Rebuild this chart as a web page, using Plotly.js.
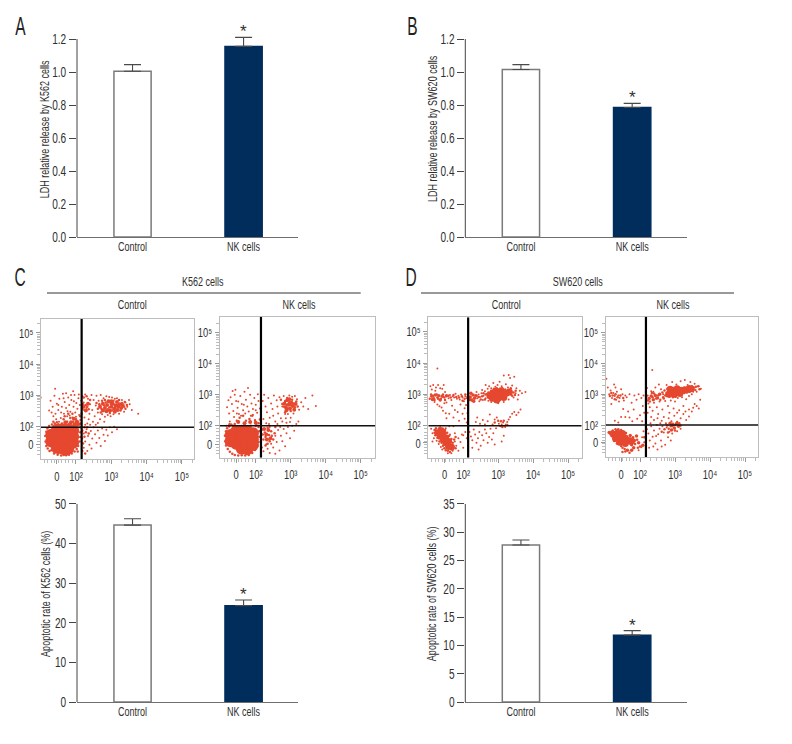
<!DOCTYPE html>
<html><head><meta charset="utf-8">
<script src="https://cdn.plot.ly/plotly-3.0.1.min.js"></script>
<style>html,body{margin:0;padding:0;background:#fff}#chart{width:792px;height:744px}</style>
</head><body><div id="chart"></div>
<script>
const FONT = '"Liberation Sans",sans-serif';
const TEXT = '#2f2f2f', DOT = '#e5482f', NAVY = '#002d5c';
const categories = ['Control', 'NK cells'];

const ldhK562 = [1.005, 1.155];
const ldhK562Err = [0.04, 0.055];
const ldhSW620 = [1.015, 0.785];
const ldhSW620Err = [0.03, 0.025];
const apoK562 = [44.6, 24.3];
const apoK562Err = [1.6, 1.4];
const apoSW620 = [27.7, 11.8];
const apoSW620Err = [0.9, 0.8];

const flowTickVals = [200, 300, 400, 500];
const flowTickText = ['10\u00B2', '10\u00B3', '10\u2074', '10\u2075'];

// Flow cytometry events in hundredths of a log decade (250 = 10^2.5).
const c1Core = [[130,172],[130,150],[146,188],[146,168],[146,148],[146,130],[162,190],[162,170],[162,150],[162,128],[178,190],[178,170],[178,150],[178,128],[192,186],[192,166],[192,146],[170,124]];
const c1Mid = [[268,262],[276,272],[282,258],[288,268],[292,280],[296,250],[300,262],[304,272],[308,256],[312,266],[316,278],[320,262],[324,270],[328,258],[332,268],[300,280],[286,248],[310,246],[276,250],[318,252],[170,212],[186,212],[194,224],[202,214],[196,206],[182,205],[205,205],[222,262],[228,250],[234,272]];
const c1Extra = [[113,168],[114,150],[116,182],[116,136],[119,192],[120,128],[124,200],[125,120],[130,122],[132,205],[138,112],[140,208],[148,108],[150,112],[158,105],[165,107],[172,106],[180,108],[188,112],[196,118],[202,126],[206,136],[210,150],[212,165],[212,180],[212,196],[205,118],[118,158],[122,176],[210,205],[266,270],[272,256],[274,282],[280,266],[284,276],[290,254],[294,260],[298,272],[302,250],[306,282],[312,258],[316,268],[322,284],[326,250],[330,274],[336,262],[340,256],[270,244],[282,284],[296,242],[344,268],[338,278],[262,256],[258,274],[220,270],[224,252],[218,256],[228,268],[232,262],[236,254],[240,284],[216,240],[230,296],[222,292],[160,208],[165,222],[175,214],[184,226],[192,214],[200,222],[206,214],[212,208],[212,232],[190,240],[178,240],[168,232],[150,206],[146,212],[136,214],[218,186],[224,196],[224,166],[228,180],[232,196],[236,176],[220,144],[218,120],[226,112]];
const c1Sparse = [[128,282],[134,262],[139,298],[142,240],[146,272],[150,252],[153,288],[157,226],[160,262],[163,304],[166,240],[168,278],[172,258],[175,232],[178,292],[181,268],[184,246],[187,284],[190,228],[193,262],[196,300],[198,244],[201,274],[204,256],[207,290],[209,236],[211,268],[136,232],[144,222],[152,214],[176,248],[186,300],[165,290],[150,268],[172,306],[200,230],[208,302],[124,250],[131,244],[192,312],[215,282],[158,244],[182,234],[194,280],[212,220],[218,296],[222,276],[226,302],[230,258],[234,288],[238,240],[240,270],[244,300],[246,252],[250,284],[253,232],[256,266],[258,298],[262,244],[264,282],[268,222],[270,300],[274,238],[278,290],[282,230],[286,296],[290,236],[294,294],[298,232],[302,292],[306,238],[310,288],[316,290],[322,240],[330,284],[336,246],[340,276],[345,262],[352,270],[358,252],[236,222],[224,228],[248,214],[232,208],[262,210],[280,214],[376,240],[350,284],[218,196],[222,176],[226,150],[230,190],[234,168],[238,140],[242,184],[246,160],[250,196],[254,174],[258,146],[262,186],[266,162],[270,136],[274,192],[278,172],[282,152],[286,188],[290,170],[296,196],[302,180],[308,198],[316,190],[222,130],[232,120],[244,128],[218,160],[226,204],[240,204],[256,204],[100,292],[141,320]];

const c2Core = [[128,170],[128,150],[144,182],[144,162],[144,142],[160,184],[160,164],[160,144],[160,126],[176,182],[176,162],[176,142],[176,124],[192,176],[192,156],[192,138]];
const c2Mid = [[282,272],[286,260],[290,282],[294,268],[298,256],[302,274],[306,264],[310,252],[288,250],[314,270],[296,286],[150,212],[168,208],[184,212],[200,210],[224,190],[230,172],[236,186],[242,160],[232,156]];
const c2Extra = [[112,168],[113,150],[115,182],[115,136],[118,192],[120,125],[124,198],[126,116],[133,110],[140,106],[150,104],[160,105],[170,104],[180,106],[190,112],[198,122],[204,134],[208,148],[210,165],[210,182],[208,196],[118,145],[122,160],[200,200],[135,200],[125,205],[280,262],[284,280],[288,268],[292,256],[296,276],[300,266],[304,284],[308,272],[312,260],[316,278],[290,290],[300,248],[276,270],[320,262],[284,244],[272,284],[140,206],[146,216],[154,226],[164,232],[172,216],[182,222],[190,232],[198,218],[208,208],[212,220],[170,198],[186,200],[202,202],[130,204],[218,188],[220,172],[222,156],[226,178],[228,164],[234,194],[238,170],[240,150],[244,182],[246,168],[250,156],[254,176],[256,196],[234,142],[228,136]];
const c2Sparse = [[118,260],[124,240],[128,292],[132,270],[136,248],[140,300],[144,280],[148,258],[152,238],[156,296],[160,270],[164,250],[168,310],[172,284],[176,262],[180,246],[184,300],[188,272],[192,254],[196,290],[200,268],[204,242],[208,280],[212,256],[138,228],[146,240],[158,232],[170,240],[186,232],[200,250],[122,282],[134,312],[150,278],[166,268],[178,322],[206,302],[192,236],[126,214],[116,200],[142,316],[220,280],[224,300],[228,262],[232,244],[236,290],[240,226],[244,272],[248,254],[252,298],[256,214],[260,282],[264,240],[268,292],[272,224],[276,262],[280,296],[284,238],[288,210],[292,238],[296,298],[300,226],[304,294],[308,240],[312,296],[318,286],[324,252],[330,276],[336,262],[342,290],[350,254],[362,298],[372,264],[222,222],[230,208],[238,206],[250,232],[262,206],[276,214],[286,224],[298,212],[262,262],[218,130],[222,118],[230,140],[234,126],[240,196],[244,142],[250,130],[256,168],[260,148],[264,186],[268,120],[272,168],[276,150],[280,190],[284,134],[288,176],[292,196],[298,160],[304,200],[310,184],[316,206],[322,214],[256,110],[270,196],[240,112]];

const d1Core = [[128,178],[134,168],[142,176],[142,158],[150,162],[150,146],[158,150],[158,134],[166,132],[136,184],[276,296],[284,304],[284,288],[292,296],[292,310],[300,288],[300,302],[308,296],[308,312],[316,302],[316,290],[324,304],[332,308],[296,282]];
const d1Mid = [[220,292],[224,282],[228,298],[232,288],[222,304],[230,278],[236,296],[218,284],[110,294],[120,298],[130,296],[140,294],[152,296],[112,284],[134,282]];
const d1Extra = [[118,178],[120,170],[124,184],[126,162],[130,160],[132,150],[138,146],[142,136],[146,128],[150,122],[156,120],[162,116],[168,124],[172,134],[170,146],[166,158],[160,168],[154,178],[148,186],[142,190],[134,194],[122,192],[174,156],[178,128],[118,186],[178,164],[264,300],[272,306],[278,284],[280,312],[288,318],[296,320],[304,316],[312,320],[320,316],[328,314],[336,300],[344,306],[350,312],[348,298],[336,320],[254,294],[258,304],[262,284],[244,292],[250,284],[238,296],[340,296],[158,296],[164,290],[172,298],[180,292],[188,290],[196,294],[204,286],[212,292],[206,300],[198,280],[108,300],[114,296],[118,282],[128,286],[142,300],[148,282],[104,286],[116,288],[126,290],[136,286],[146,290],[124,300],[290,210],[300,216],[308,214],[316,216],[326,202],[312,196]];
const d1Sparse = [[106,326],[110,316],[114,330],[120,312],[122,322],[128,330],[134,320],[140,318],[144,330],[148,308],[152,274],[118,276],[126,268],[132,262],[138,258],[142,248],[146,272],[150,240],[158,288],[162,298],[166,282],[170,294],[174,290],[178,302],[182,286],[186,296],[190,284],[194,300],[198,290],[202,278],[206,294],[210,288],[214,300],[168,264],[176,250],[184,244],[192,268],[198,238],[204,256],[208,266],[212,240],[172,226],[160,238],[152,224],[188,216],[204,222],[210,210],[126,383],[240,288],[244,300],[248,292],[252,304],[256,282],[258,296],[262,310],[264,288],[268,302],[270,318],[272,280],[238,308],[246,278],[254,314],[274,326],[280,320],[286,336],[292,324],[298,330],[304,340],[310,326],[316,360],[322,332],[328,322],[334,352],[340,328],[346,356],[352,320],[358,298],[362,312],[368,304],[280,276],[300,272],[316,276],[330,284],[344,290],[350,304],[356,284],[378,308],[264,330],[330,362],[236,212],[240,226],[248,206],[256,218],[262,204],[270,214],[276,236],[284,204],[290,220],[296,226],[302,206],[306,198],[310,204],[314,210],[318,200],[322,204],[326,212],[330,220],[334,228],[340,238],[346,244],[352,234],[358,242],[364,252],[320,196],[218,180],[222,166],[226,154],[230,188],[234,172],[238,146],[242,160],[246,180],[250,136],[254,170],[258,154],[262,188],[266,176],[270,146],[274,164],[278,190],[282,156],[286,176],[290,140],[294,192],[310,150],[316,168],[226,130],[244,124],[206,180],[200,170],[210,160],[108,190],[112,176],[116,160],[120,186],[124,152],[130,142],[136,132],[140,124],[170,120],[176,150],[180,136],[186,160],[192,148],[196,172],[200,130],[176,176],[162,172],[186,120],[166,112],[150,192],[130,192],[160,198],[172,198],[156,112],[112,150]];

const d2Core = [[124,170],[130,156],[136,174],[142,160],[142,144],[150,172],[150,152],[158,158],[158,140],[166,150],[176,148],[282,300],[290,304],[298,300],[298,312],[306,306],[314,312],[314,302],[322,312],[330,314],[338,316],[346,318],[286,316],[306,318]];
const d2Mid = [[176,136],[184,150],[190,164],[196,142],[172,166],[182,126],[164,118],[176,118],[208,134],[112,176],[226,286],[232,294],[238,282],[244,296],[250,288],[256,300],[286,206],[292,198],[298,190],[304,204],[310,196],[290,184]];
const d2Extra = [[118,178],[120,164],[122,182],[126,148],[130,176],[134,140],[138,186],[146,132],[150,126],[156,122],[162,136],[170,140],[172,156],[160,174],[146,184],[130,186],[116,170],[180,160],[186,138],[192,152],[170,110],[158,114],[150,112],[200,130],[194,126],[212,160],[276,304],[284,292],[290,312],[296,320],[302,292],[310,298],[318,320],[326,304],[334,306],[342,308],[350,312],[358,314],[294,290],[268,286],[278,318],[326,322],[340,326],[348,326],[366,326],[370,316],[264,306],[270,312],[354,322],[360,324],[272,296],[222,280],[228,276],[236,290],[240,302],[246,286],[252,296],[258,282],[218,292],[234,304],[266,290],[278,198],[282,188],[288,196],[294,204],[300,200],[306,210],[312,206],[280,176],[270,186],[262,178],[300,182],[316,198],[114,294],[122,296],[130,300],[136,290],[144,296],[152,288],[128,284],[118,304]];
const d2Sparse = [[108,322],[112,300],[116,312],[120,288],[124,304],[128,294],[132,282],[134,308],[138,296],[142,288],[146,316],[150,300],[154,280],[158,296],[126,332],[104,350],[130,322],[140,276],[118,268],[162,290],[170,300],[176,272],[184,296],[190,282],[196,300],[204,288],[210,296],[182,250],[166,244],[152,252],[158,226],[170,224],[178,212],[192,220],[200,232],[208,262],[212,240],[146,226],[138,208],[206,212],[128,214],[235,379],[220,320],[224,270],[228,258],[232,310],[236,246],[240,272],[244,322],[248,258],[252,236],[256,276],[260,316],[264,250],[268,226],[272,278],[276,330],[280,262],[284,240],[288,280],[292,340],[296,254],[300,276],[304,332],[308,288],[312,248],[316,342],[320,290],[324,262],[328,346],[332,284],[336,330],[340,294],[344,340],[348,300],[352,308],[356,334],[362,308],[368,326],[374,318],[266,300],[254,332],[238,308],[222,296],[240,216],[250,222],[232,226],[222,240],[262,214],[274,206],[282,222],[290,212],[298,230],[306,240],[316,222],[324,236],[332,216],[340,228],[348,244],[352,256],[356,268],[362,262],[368,254],[340,250],[330,244],[372,282],[220,186],[224,172],[228,150],[232,196],[236,162],[240,182],[244,140],[248,200],[252,170],[256,188],[260,150],[264,196],[268,176],[272,136],[276,192],[280,160],[284,178],[288,150],[292,172],[226,126],[238,130],[250,120],[216,200],[230,206],[246,164],[262,130],[258,206],[274,204],[306,180],[316,188],[210,180],[206,160],[212,144],[204,128],[196,118]];

const W = 792, H = 744;
const dx = (a, b) => [a / W, b / W];
const dy = (top, bottom) => [1 - bottom / H, 1 - top / H];
const xs = p => p.map(q => q[0]);
const ys = p => p.map(q => q[1]);

const layout = {
  width: W, height: H, margin: {l: 0, r: 0, t: 0, b: 0}, showlegend: false,
  paper_bgcolor: '#fff', plot_bgcolor: '#fff', font: {family: FONT, color: TEXT, size: 12.5},
  annotations: [], shapes: []
};
const traces = [];

const barPanels = [
  {n: '',  vals: ldhK562,  errs: ldhK562Err,  x: [77, 298],      y: [30.75, 237], max: 1.2, top: 1.25, dtick: 0.2, fmt: '.1f', title: 'LDH relative release by K562 cells', shift: [7, -4.5]},
  {n: '2', vals: ldhSW620, errs: ldhSW620Err, x: [465.3, 686.7], y: [30.75, 237], max: 1.2, top: 1.25, dtick: 0.2, fmt: '.1f', title: 'LDH relative release by SW620 cells', shift: [7, -5]},
  {n: '3', vals: apoK562,  errs: apoK562Err,  x: [77, 298],      y: [503.7, 702], max: 50,  top: 50,   dtick: 10,  fmt: 'd',   title: 'Apoptotic rate of K562 cells (%)', shift: [8, -9]},
  {n: '4', vals: apoSW620, errs: apoSW620Err, x: [465.3, 686.7], y: [503.7, 702], max: 35,  top: 35,   dtick: 5,   fmt: 'd',   title: 'Apoptotic rate of SW620 cells (%)', shift: [6, -9]}
];
barPanels.forEach(p => {
  traces.push({
    type: 'bar', x: categories, y: p.vals, xaxis: 'x' + p.n, yaxis: 'y' + p.n, width: 0.335, cliponaxis: false,
    marker: {color: ['#ffffff', NAVY], line: {color: ['#7a7a7a', NAVY], width: 1.5}},
    error_y: {type: 'data', array: p.errs, symmetric: false, arrayminus: [0, 0], visible: true, color: '#4a4a4a', thickness: 1.1, width: 8.5}
  });
  layout['xaxis' + p.n] = {domain: dx(p.x[0], p.x[1]), anchor: 'y' + p.n, type: 'category', range: [-0.5, 1.49], showgrid: false, zeroline: false,
    showline: true, linecolor: '#6e6e6e', linewidth: 1, ticks: '', ticklabelstandoff: -2, tickfont: {size: 12.5, family: FONT, color: TEXT}, fixedrange: true};
  layout['yaxis' + p.n] = {domain: dy(p.y[0], p.y[1]), anchor: 'x' + p.n, range: [0, p.top],
    tickmode: 'linear', dtick: p.dtick, tick0: 0, tickformat: p.fmt, showgrid: false, zeroline: false,
    showline: false, ticks: 'outside', ticklen: 7, tickcolor: '#444', tickwidth: 1,
    tickfont: {size: 14, family: FONT, color: TEXT}, title: {text: p.title, font: {size: 12.5, family: FONT, color: TEXT}}, fixedrange: true};
  layout.shapes.push({type: 'line', xref: 'x' + p.n + ' domain', yref: 'y' + p.n, x0: 0, x1: 0, y0: 0, y1: p.max, line: {color: '#444', width: 1}});
  layout.annotations.push({xref: 'x' + p.n, yref: 'y' + p.n, x: categories[1], y: p.vals[1] + p.errs[1], text: '*', showarrow: false,
    yanchor: 'bottom', font: {size: 17, family: FONT, color: TEXT}, yshift: -6});
});

const minorVals = [110,120,130,140,150,160,170,180,190,230,248,260,270,278,285,290,295,330,348,360,370,378,385,390,395,430,448,460,470,478,485,490,495,530];
const flowPanels = [
  {n: '5', core: c1Core, mid: c1Mid, extra: c1Extra, sparse: c1Sparse, coreSize: 12, midSize: 4, x: [41, 194],       y: [319, 459],     xr: [101, 534], yr: [94, 545], x0: 146, y0: 142, gx: 216, gy: 196, top: 'Control', topX: 132},
  {n: '6', core: c2Core, mid: c2Mid, extra: c2Extra, sparse: c2Sparse, coreSize: 12, midSize: 4, x: [219.7, 375],    y: [316.7, 457.7], xr: [97, 541],  yr: [97, 552], x0: 144, y0: 141, gx: 215, gy: 200, top: 'NK cells', topX: 299},
  {n: '7', core: d1Core, mid: d1Mid, extra: d1Extra, sparse: d1Sparse, coreSize: 7,  midSize: 3.5, x: [428.3, 581.7], y: [317.3, 457.7], xr: [100, 539], yr: [98, 546], x0: 147, y0: 145, gx: 214, gy: 200, top: 'Control', topX: 505.7},
  {n: '8', core: d2Core, mid: d2Mid, extra: d2Extra, sparse: d2Sparse, coreSize: 7,  midSize: 3.5, x: [605.7, 758.3], y: [316.7, 457],   xr: [102, 538], yr: [96, 552], x0: 146, y0: 142, gx: 217, gy: 200, top: 'NK cells', topX: 673}
];
flowPanels.forEach(p => {
  [[p.core, p.coreSize], [p.mid, p.midSize], [p.extra, 2.5], [p.sparse, 2]].forEach(([pts, size]) => traces.push({
    type: 'scatter', mode: 'markers', x: xs(pts), y: ys(pts), xaxis: 'x' + p.n, yaxis: 'y' + p.n,
    marker: {color: DOT, size: size, line: {width: 0}}, hoverinfo: 'skip'
  }));
  const base = {showgrid: false, zeroline: false, showline: true, mirror: true, linecolor: '#bdbdbd', linewidth: 1, ticks: 'outside', ticklen: 4, tickcolor: '#999', tickwidth: 1,
    tickmode: 'array', tickfont: {size: 13, family: FONT, color: TEXT}, fixedrange: true,
    minor: {tickmode: 'array', tickvals: minorVals, ticks: 'outside', ticklen: 3, tickcolor: '#bbb', tickwidth: 1}};
  layout['xaxis' + p.n] = Object.assign({}, base, {domain: dx(p.x[0], p.x[1]), anchor: 'y' + p.n, range: p.xr,
    tickvals: [p.x0].concat(flowTickVals), ticktext: ['0'].concat(flowTickText), ticklabelstandoff: 1});
  layout['yaxis' + p.n] = Object.assign({}, base, {domain: dy(p.y[0], p.y[1]), anchor: 'x' + p.n, range: p.yr,
    tickvals: [p.y0].concat(flowTickVals), ticktext: ['0'].concat(flowTickText)});
  layout.shapes.push(
    {type: 'line', xref: 'x' + p.n, yref: 'y' + p.n, x0: p.gx, x1: p.gx, y0: p.yr[0], y1: p.yr[1], line: {color: '#000', width: 2.2}},
    {type: 'line', xref: 'x' + p.n, yref: 'y' + p.n, x0: p.xr[0], x1: p.xr[1], y0: p.gy, y1: p.gy, line: {color: '#111', width: 1.5}}
  );
  layout.annotations.push({xref: 'paper', yref: 'paper', x: p.topX / W, y: 1 - 305 / H, text: p.top, showarrow: false, xanchor: 'center', yanchor: 'middle', font: {size: 12.5, family: FONT, color: TEXT}});
});

[['K562 cells', 203, 47, 360.7], ['SW620 cells', 577, 421, 734]].forEach(([t, cx, a, b]) => {
  layout.annotations.push({xref: 'paper', yref: 'paper', x: cx / W, y: 1 - 282 / H, text: t, showarrow: false, xanchor: 'center', yanchor: 'middle', font: {size: 12.5, family: FONT, color: TEXT}});
  layout.shapes.push({type: 'line', xref: 'paper', yref: 'paper', x0: a / W, x1: b / W, y0: 1 - 293 / H, y1: 1 - 293 / H, line: {color: '#777', width: 1.3}});
});
[['A', 20, 26], ['B', 412, 26], ['C', 20, 277], ['D', 411, 277]].forEach(([t, x, y]) => {
  layout.annotations.push({xref: 'paper', yref: 'paper', x: x / W, y: 1 - y / H, text: t, showarrow: false, xanchor: 'center', yanchor: 'middle', font: {size: 25, family: FONT, color: '#222'}});
});

Plotly.newPlot('chart', traces, layout, {displayModeBar: false}).then(() => {
  // The reference type is a condensed face; no narrow font is installed, so squeeze the glyphs horizontally.
  document.querySelectorAll('#chart svg text').forEach(t => {
    const len = t.getComputedTextLength();
    if (!len || t.textContent === '*') return;
    const big = parseFloat(getComputedStyle(t).fontSize) > 20;
    t.setAttribute('textLength', (len * (big ? 0.62 : 0.72)).toFixed(2));
    t.setAttribute('lengthAdjust', 'spacingAndGlyphs');
  });
  barPanels.forEach(p => {
    const g = document.querySelector('.g-y' + p.n + 'title');
    if (g) g.setAttribute('transform', 'translate(' + p.shift[0] + ',' + p.shift[1] + ')');
  });
});
</script></body></html>
